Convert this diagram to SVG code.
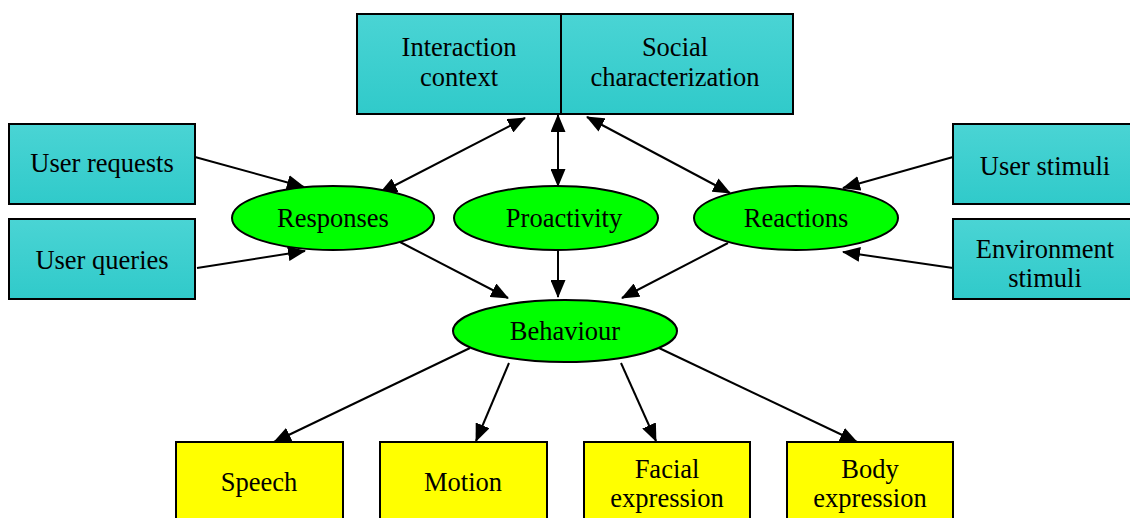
<svg xmlns="http://www.w3.org/2000/svg" width="1130" height="518" viewBox="0 0 1130 518">
  <defs>
    <linearGradient id="cyanFill" x1="0" y1="0" x2="0" y2="1">
      <stop offset="0" stop-color="#4AD4D4"/>
      <stop offset="1" stop-color="#30CACA"/>
    </linearGradient>
    <marker id="arrow" markerUnits="userSpaceOnUse" markerWidth="18" markerHeight="15" refX="17" refY="7.5" orient="auto-start-reverse" viewBox="0 0 18 15">
      <path d="M0,0 L18,7.5 L0,15 z" fill="#000"/>
    </marker>
    <style>
      .box { fill: url(#cyanFill); stroke: #000; stroke-width: 2; }
      .out { fill: #FFFF00; stroke: #000; stroke-width: 2; }
      .oval { fill: #00FF00; stroke: #000; stroke-width: 2; }
      .lbl { font-family: "Liberation Serif", "Times New Roman", serif; font-size: 26.5px; fill: #000; text-anchor: middle; }
      .edge { stroke: #000; stroke-width: 2; fill: none; marker-end: url(#arrow); }
      .both { marker-start: url(#arrow); }
    </style>
  </defs>

  <rect width="1130" height="518" fill="#fff"/>

  <!-- connectors -->
  <g id="connectors">
    <line class="edge" x1="195" y1="157" x2="304" y2="187"/>
    <line class="edge" x1="197" y1="268" x2="305" y2="251"/>
    <line class="edge both" x1="525" y1="118" x2="380" y2="193"/>
    <line class="edge both" x1="558" y1="115" x2="558" y2="186"/>
    <line class="edge both" x1="587" y1="117" x2="730" y2="193"/>
    <line class="edge" x1="953" y1="157" x2="843" y2="188"/>
    <line class="edge" x1="953" y1="268" x2="843" y2="252"/>
    <line class="edge" x1="400" y1="242" x2="508" y2="298"/>
    <line class="edge" x1="558" y1="250" x2="558" y2="297"/>
    <line class="edge" x1="728" y1="243" x2="622" y2="298"/>
    <line class="edge" x1="470" y1="348" x2="274" y2="442"/>
    <line class="edge" x1="509" y1="363" x2="476" y2="441"/>
    <line class="edge" x1="621" y1="363" x2="656" y2="441"/>
    <line class="edge" x1="659" y1="348" x2="857" y2="442"/>
  </g>

  <!-- context block -->
  <g id="context">
    <rect class="box" x="357" y="14" width="436" height="100"/>
    <line x1="561" y1="14" x2="561" y2="114" stroke="#000" stroke-width="2"/>
    <text class="lbl" x="459" y="56">Interaction</text>
    <text class="lbl" x="459" y="86">context</text>
    <text class="lbl" x="675" y="56">Social</text>
    <text class="lbl" x="675" y="86">characterization</text>
  </g>

  <!-- inputs -->
  <g id="user-requests">
    <rect class="box" x="9" y="124" width="186" height="80"/>
    <text class="lbl" x="102" y="172">User requests</text>
  </g>
  <g id="user-queries">
    <rect class="box" x="9" y="219" width="186" height="80"/>
    <text class="lbl" x="102" y="269">User queries</text>
  </g>
  <g id="user-stimuli">
    <rect class="box" x="953" y="124" width="186" height="80"/>
    <text class="lbl" x="1045" y="175">User stimuli</text>
  </g>
  <g id="environment-stimuli">
    <rect class="box" x="953" y="219" width="186" height="80"/>
    <text class="lbl" x="1045" y="258">Environment</text>
    <text class="lbl" x="1045" y="287">stimuli</text>
  </g>

  <!-- processes -->
  <g id="responses">
    <ellipse class="oval" cx="333" cy="218" rx="101" ry="32"/>
    <text class="lbl" x="333" y="227">Responses</text>
  </g>
  <g id="proactivity">
    <ellipse class="oval" cx="556" cy="218" rx="102" ry="32"/>
    <text class="lbl" x="564" y="227">Proactivity</text>
  </g>
  <g id="reactions">
    <ellipse class="oval" cx="796" cy="218" rx="102" ry="32"/>
    <text class="lbl" x="796" y="227">Reactions</text>
  </g>
  <g id="behaviour">
    <ellipse class="oval" cx="565" cy="331" rx="112" ry="31"/>
    <text class="lbl" x="565" y="340">Behaviour</text>
  </g>

  <!-- outputs -->
  <g id="speech">
    <rect class="out" x="176" y="442" width="167" height="90"/>
    <text class="lbl" x="259" y="491">Speech</text>
  </g>
  <g id="motion">
    <rect class="out" x="380" y="442" width="167" height="90"/>
    <text class="lbl" x="463" y="491">Motion</text>
  </g>
  <g id="facial-expression">
    <rect class="out" x="584" y="442" width="166" height="90"/>
    <text class="lbl" x="667" y="478">Facial</text>
    <text class="lbl" x="667" y="507">expression</text>
  </g>
  <g id="body-expression">
    <rect class="out" x="787" y="442" width="166" height="90"/>
    <text class="lbl" x="870" y="478">Body</text>
    <text class="lbl" x="870" y="507">expression</text>
  </g>
</svg>
